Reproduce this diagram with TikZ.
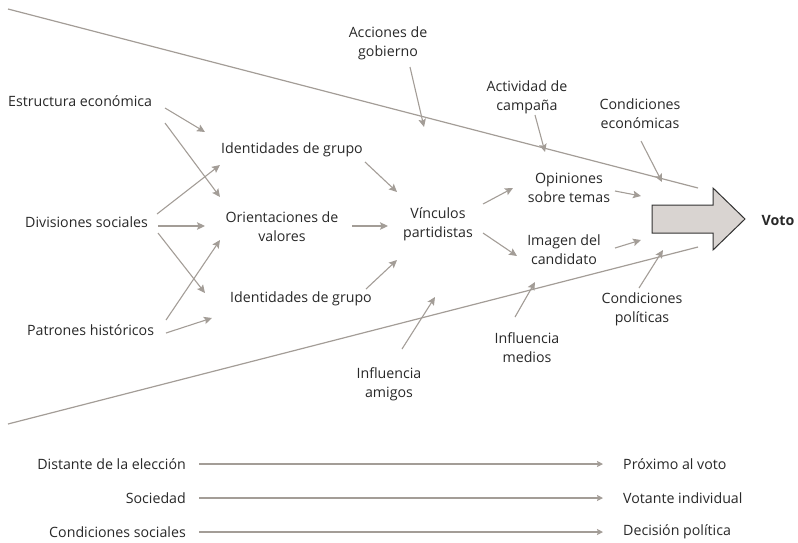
\documentclass[tikz,border=0pt]{standalone}
\usepackage{fontspec}
\setmainfont{Open Sans}
\usetikzlibrary{arrows.meta}
\definecolor{ag}{RGB}{163,157,151}
\definecolor{txt}{RGB}{40,40,40}
\definecolor{bigfill}{RGB}{217,212,209}
\definecolor{bigdraw}{RGB}{50,50,50}
\tikzset{
  lbl/.style={inner sep=0pt, text=txt, font=\fontsize{14.2}{19}\selectfont, align=center},
  botlbl/.style={inner sep=0pt, text=txt, font=\fontsize{14.2}{19}\selectfont},
  arr/.style={draw=ag, line width=1.1pt, -{Stealth[length=8pt,width=7.5pt,inset=1.5pt]}},
  botarr/.style={draw=ag, line width=1.1pt, -{Stealth[length=6pt,width=6pt,inset=1pt]}},
  funnel/.style={draw=ag, line width=1.2pt},
  bigarrow/.style={fill=bigfill, draw=bigdraw, line width=1pt, line join=miter}
}
\begin{document}
\begin{tikzpicture}[x=1pt,y=-1pt]
\useasboundingbox (0,0) rectangle (798,542);
% funnel lines
\coordinate (ft1) at (8,9);
\coordinate (ft2) at (698,188);
\coordinate (fb1) at (8,424);
\coordinate (fb2) at (698,247);
\draw[funnel] (ft1) -- (ft2);
\draw[funnel] (fb1) -- (fb2);
% big arrow
\draw[bigarrow] (652,205) -- (713,205) -- (713,188) -- (745,219) -- (713,250) -- (713,233) -- (652,233) -- cycle;
\node[lbl, font=\fontsize{14.2}{19}\selectfont\bfseries] (voto) at (778,220) {Voto};
% labels
\node[lbl, anchor=west] (est) at (8,101) {Estructura económica};
\node[lbl, anchor=west] (div) at (25,222) {Divisiones sociales};
\node[lbl, anchor=west] (pat) at (27,330) {Patrones históricos};
\node[lbl] (id1) at (292,150) {Identidades de grupo};
\node[lbl] (ori) at (282,227) {Orientaciones de\\valores};
\node[lbl] (id2) at (301,299) {Identidades de grupo};
\node[lbl] (vin) at (438,224) {Vínculos\\partidistas};
\node[lbl] (opi) at (569,188) {Opiniones\\sobre temas};
\node[lbl] (ima) at (564,250) {Imagen del\\candidato};
\node[lbl] (acc) at (388,43) {Acciones de\\gobierno};
\node[lbl] (act) at (527,97) {Actividad de\\campaña};
\node[lbl] (ceco) at (640,114) {Condiciones\\económicas};
\node[lbl] (cpol) at (642,309) {Condiciones\\políticas};
\node[lbl] (imed) at (527,348) {Influencia\\medios};
\node[lbl] (iami) at (389,384) {Influencia\\amigos};
% arrow endpoints
\coordinate (a1s) at (165,108); \coordinate (a1e) at (205,132);
\coordinate (a2s) at (165,123); \coordinate (a2e) at (220,197);
\coordinate (a3s) at (157,214); \coordinate (a3e) at (220,165);
\coordinate (a4s) at (158,226); \coordinate (a4e) at (205,226);
\coordinate (a5s) at (158,233); \coordinate (a5e) at (205,293);
\coordinate (a6s) at (166,320); \coordinate (a6e) at (220,240);
\coordinate (a7s) at (166,333); \coordinate (a7e) at (212,318);
\coordinate (a8s) at (365,162); \coordinate (a8e) at (397,192);
\coordinate (a9s) at (352,226); \coordinate (a9e) at (388,226);
\coordinate (a10s) at (366,289); \coordinate (a10e) at (397,260);
\coordinate (a11s) at (483,204); \coordinate (a11e) at (513,188);
\coordinate (a12s) at (483,233); \coordinate (a12e) at (517,256);
\coordinate (a13s) at (410,67); \coordinate (a13e) at (424,127);
\coordinate (a14s) at (535,115); \coordinate (a14e) at (545,152);
\coordinate (a15s) at (641,141); \coordinate (a15e) at (662,182);
\coordinate (a16s) at (615,191); \coordinate (a16e) at (641,196);
\coordinate (a17s) at (615,248); \coordinate (a17e) at (641,240);
\coordinate (a18s) at (639,288); \coordinate (a18e) at (663,250);
\coordinate (a19s) at (515,317); \coordinate (a19e) at (535,282);
\coordinate (a20s) at (402,349); \coordinate (a20e) at (435,297);
\foreach \i in {1,...,20} { \draw[arr] (a\i s) -- (a\i e); }
% bottom rows
\node[botlbl, anchor=east] (d1) at (186,464) {Distante de la elección};
\node[botlbl, anchor=east] (d2) at (186,498) {Sociedad};
\node[botlbl, anchor=east] (d3) at (186,532) {Condiciones sociales};
\node[botlbl, anchor=west] (p1) at (623,464) {Próximo al voto};
\node[botlbl, anchor=west] (p2) at (623,498) {Votante individual};
\node[botlbl, anchor=west] (p3) at (623,532) {Decisión política};
\coordinate (b1s) at (199,464); \coordinate (b1e) at (603,464);
\coordinate (b2s) at (199,498); \coordinate (b2e) at (603,498);
\coordinate (b3s) at (199,532); \coordinate (b3e) at (603,532);
\draw[botarr] (b1s) -- (b1e);
\draw[botarr] (b2s) -- (b2e);
\draw[botarr] (b3s) -- (b3e);
\end{tikzpicture}
\end{document}
